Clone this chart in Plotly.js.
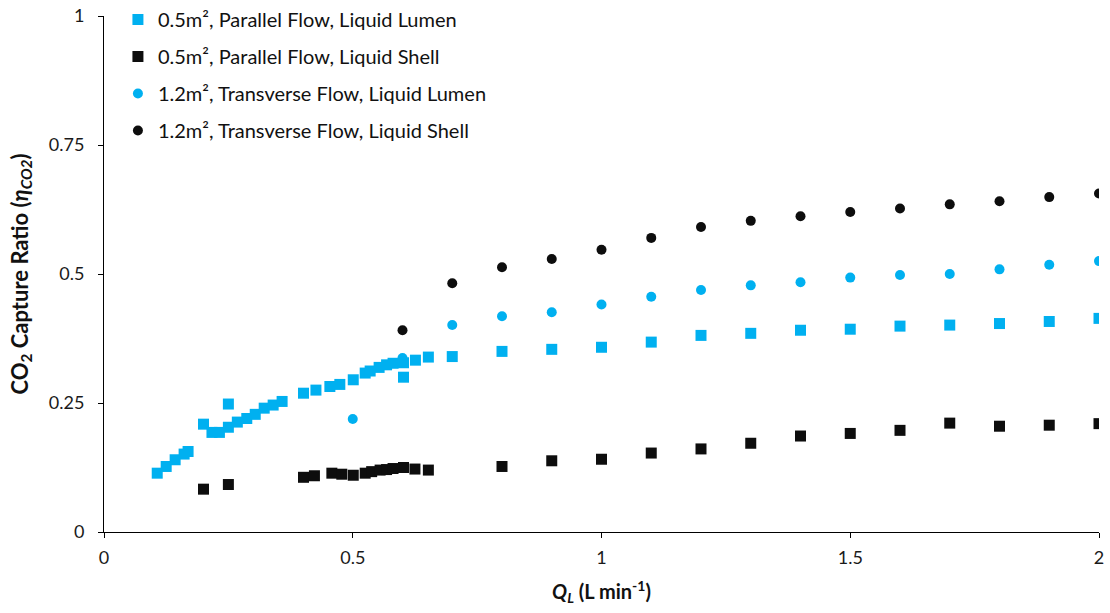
<!DOCTYPE html>
<html>
<head>
<meta charset="utf-8">
<script src="https://cdn.plot.ly/plotly-3.0.1.min.js"></script>
<style>html,body{margin:0;padding:0;background:#fff;}#chart{width:1110px;height:613px;}</style>
</head>
<body>
<div id="chart"></div>
<script>
// Series 1: 0.5m², Parallel Flow, Liquid Lumen
const parLumenX = [0.107,0.125,0.143,0.161,0.169,0.2,0.217,0.232,0.25,0.25,0.268,0.287,0.304,0.322,0.34,0.358,0.401,0.426,0.454,0.474,0.501,0.525,0.535,0.553,0.568,0.581,0.602,0.602,0.626,0.652,0.7,0.8,0.9,1.0,1.1,1.2,1.3,1.4,1.5,1.6,1.7,1.8,1.9,2.0];
const parLumenY = [0.114,0.127,0.140,0.151,0.156,0.209,0.193,0.193,0.248,0.203,0.213,0.220,0.228,0.240,0.246,0.253,0.269,0.275,0.282,0.286,0.295,0.308,0.312,0.319,0.324,0.327,0.328,0.300,0.333,0.339,0.340,0.350,0.354,0.358,0.368,0.381,0.385,0.391,0.393,0.399,0.401,0.404,0.408,0.414];
// Series 2: 0.5m², Parallel Flow, Liquid Shell
const parShellX = [0.2,0.25,0.401,0.423,0.458,0.478,0.501,0.525,0.538,0.555,0.568,0.581,0.602,0.625,0.652,0.8,0.9,1.0,1.1,1.2,1.3,1.4,1.5,1.6,1.7,1.8,1.9,2.0];
const parShellY = [0.083,0.092,0.106,0.109,0.114,0.112,0.110,0.114,0.117,0.120,0.121,0.123,0.125,0.122,0.120,0.127,0.138,0.141,0.153,0.161,0.172,0.186,0.191,0.197,0.211,0.205,0.207,0.210];
// Series 3: 1.2m², Transverse Flow, Liquid Lumen
const trLumenX = [0.5,0.6,0.7,0.8,0.9,1.0,1.1,1.2,1.3,1.4,1.5,1.6,1.7,1.8,1.9,2.0];
const trLumenY = [0.219,0.337,0.401,0.418,0.426,0.441,0.456,0.469,0.478,0.484,0.493,0.498,0.500,0.509,0.518,0.525];
// Series 4: 1.2m², Transverse Flow, Liquid Shell
const trShellX = [0.6,0.7,0.8,0.9,1.0,1.1,1.2,1.3,1.4,1.5,1.6,1.7,1.8,1.9,2.0];
const trShellY = [0.391,0.482,0.513,0.529,0.547,0.570,0.591,0.603,0.612,0.620,0.627,0.635,0.641,0.649,0.656];

const names = ['0.5m², Parallel Flow, Liquid Lumen','0.5m², Parallel Flow, Liquid Shell','1.2m², Transverse Flow, Liquid Lumen','1.2m², Transverse Flow, Liquid Shell'];
const xTicks = [0,0.5,1,1.5,2];
const yTicks = [0,0.25,0.5,0.75,1];

const BLUE = '#00B0F0', BLACK = '#0D0D0D';
const FONT = 'Lato, "Open Sans", sans-serif';

function tr(x, y, name, sym, col, size, grp){
  return {x:x, y:y, name:name, type:'scatter', mode:'markers', legendgroup:grp,
    marker:{symbol:sym, color:col, size:size, line:{width:0}}};
}
const data = [
  tr(parLumenX, parLumenY, names[0], 'square', BLUE, 11, 'a'),
  tr(parShellX, parShellY, names[1], 'square', BLACK, 11, 'b'),
  tr(trLumenX, trLumenY, names[2], 'circle', BLUE, 10, 'c'),
  tr(trShellX, trShellY, names[3], 'circle', BLACK, 10, 'd')
];
const layout = {
  width:1110, height:613,
  margin:{l:104, r:11, t:16, b:81, autoexpand:false},
  paper_bgcolor:'#fff', plot_bgcolor:'#fff',
  font:{family:FONT, size:18, color:'#1a1a1a'},
  showlegend:true,
  legend:{x:0.014, y:1.031, xanchor:'left', yanchor:'top', bgcolor:'rgba(0,0,0,0)',
    font:{family:FONT, size:20, color:'#111'}, traceorder:'grouped', tracegroupgap:8,
    itemwidth:30},
  xaxis:{range:[0,2], tickvals:xTicks, ticktext:xTicks.map(String), showgrid:false, zeroline:false,
    showline:true, linecolor:'#000', linewidth:1, ticks:'outside', ticklen:5, tickcolor:'#000',
    ticklabelstandoff:4,
    tickfont:{family:FONT, size:18, color:'#1a1a1a'},
    title:{text:'<b><i>Q<sub>L</sub></i> (L min<sup>-1</sup>)</b>', font:{family:FONT, size:20, color:'#111'}, standoff:18}},
  yaxis:{range:[0,1], tickvals:yTicks, ticktext:yTicks.map(String), showgrid:false, zeroline:false,
    showline:true, linecolor:'#000', linewidth:1, ticks:'outside', ticklen:5, tickcolor:'#000',
    ticklabelstandoff:10,
    tickfont:{family:FONT, size:18, color:'#1a1a1a'},
    title:{text:'<b>CO<sub>2</sub> Capture Ratio (<i>η<sub>CO2</sub></i>)</b>', font:{family:FONT, size:22, color:'#111'}, standoff:14}}
};
Plotly.newPlot('chart', data, layout, {displayModeBar:false, staticPlot:true});
</script>
</body>
</html>
